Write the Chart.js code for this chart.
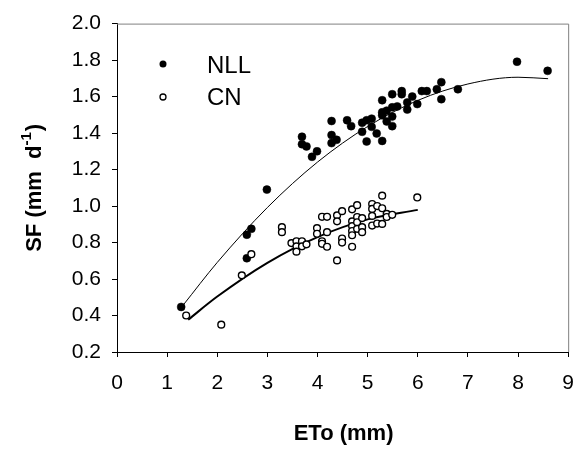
<!DOCTYPE html>
<html>
<head>
<meta charset="utf-8">
<script src="https://cdn.jsdelivr.net/npm/chart.js@4/dist/chart.umd.min.js"></script>
<style>
html,body{margin:0;padding:0;background:#fff;}
#wrap{width:588px;height:450px;position:relative;}
</style>
</head>
<body>
<div id="wrap"><canvas id="c" width="588" height="450"></canvas></div>
<script>
// ---- data ----
const seriesNames = ["NLL", "CN"];
const nllX = [1.28,2.59,2.59,2.68,2.99,3.69,3.69,3.78,3.89,3.99,4.28,4.28,4.28,4.38,4.59,4.67,4.89,4.89,4.98,5.08,4.98,5.08,5.18,5.29,5.29,5.29,5.29,5.38,5.38,5.49,5.49,5.49,5.49,5.59,5.68,5.68,5.79,5.79,5.89,5.99,6.08,6.18,6.38,6.47,6.47,6.80,7.98,8.59];
const nllY = [0.447,0.714,0.843,0.875,1.09,1.38,1.339,1.327,1.27,1.30,1.466,1.389,1.345,1.363,1.47,1.438,1.457,1.407,1.47,1.479,1.354,1.434,1.398,1.357,1.58,1.514,1.497,1.523,1.464,1.613,1.541,1.491,1.438,1.546,1.63,1.613,1.568,1.529,1.60,1.559,1.63,1.63,1.64,1.586,1.679,1.64,1.791,1.741];
const cnX = [1.38,2.08,2.49,2.68,3.29,3.29,3.48,3.58,3.69,3.58,3.69,3.78,3.58,3.99,3.99,4.09,4.09,4.19,4.19,4.09,4.19,4.39,4.39,4.49,4.49,4.49,4.39,4.69,4.79,4.69,4.69,4.69,4.69,4.79,4.79,4.79,4.89,4.89,4.89,4.69,5.09,5.09,5.09,5.19,5.29,5.09,5.19,5.29,5.29,5.38,5.38,5.49,5.99];
const cnY = [0.40,0.35,0.62,0.736,0.884,0.857,0.797,0.807,0.807,0.779,0.779,0.79,0.75,0.879,0.848,0.807,0.793,0.857,0.777,0.941,0.941,0.949,0.916,0.972,0.822,0.80,0.702,0.982,1.005,0.916,0.89,0.863,0.84,0.94,0.911,0.875,0.934,0.884,0.857,0.777,1.011,0.984,0.946,1.0,0.988,0.893,0.904,0.902,1.057,0.957,0.94,0.952,1.047];
// fitted curves
const nllFitX = [1.32,2,3,4,5,6,7,8,8.6];
const nllFitY = [0.457,0.691,0.992,1.241,1.436,1.579,1.669,1.706,1.698];
const cnFitX = [1.42,2,3,4,5,6];
const cnFitY = [0.377,0.504,0.689,0.830,0.927,0.979];
const xTicks = [0,1,2,3,4,5,6,7,8,9];
const yTicks = [0.2,0.4,0.6,0.8,1.0,1.2,1.4,1.6,1.8,2.0];
const xTitle = "ETo (mm)";
const yTitleMain = "SF (mm  d";
const yTitleSup = "-1";
const yTitleEnd = ")";

const zip = (xs, ys) => xs.map((x, i) => ({x: x, y: ys[i]}));
const FONT = "'Liberation Sans', Arial, sans-serif";

const overlay = {
  id: 'overlay',
  afterDraw(chart) {
    const ctx = chart.ctx;
    const a = chart.chartArea;
    ctx.save();
    // top/right frame
    ctx.strokeStyle = '#808080';
    ctx.lineWidth = 1;
    ctx.beginPath();
    ctx.moveTo(a.left, a.top + 0.5);
    ctx.lineTo(a.right + 0.5, a.top + 0.5);
    ctx.lineTo(a.right + 0.5, a.bottom);
    ctx.stroke();
    // legend
    const lx = 163;
    ctx.fillStyle = '#000';
    ctx.beginPath(); ctx.arc(lx, 64, 3.5, 0, Math.PI * 2); ctx.fill();
    ctx.strokeStyle = '#000'; ctx.lineWidth = 1.3;
    ctx.beginPath(); ctx.arc(lx, 97, 3, 0, Math.PI * 2); ctx.fillStyle = '#fff'; ctx.fill(); ctx.stroke();
    ctx.fillStyle = '#000';
    ctx.font = '24px ' + FONT;
    ctx.textAlign = 'left'; ctx.textBaseline = 'middle';
    ctx.fillText(seriesNames[0], 207, 66);
    ctx.fillText(seriesNames[1], 207, 98);
    // x title
    ctx.font = 'bold 22px ' + FONT;
    ctx.textAlign = 'center'; ctx.textBaseline = 'middle';
    ctx.fillText(xTitle, (a.left + a.right) / 2 + 1, 434);
    // y title (rotated, with superscript)
    ctx.translate(33, (a.top + a.bottom) / 2);
    ctx.rotate(-Math.PI / 2);
    ctx.textBaseline = 'alphabetic';
    ctx.textAlign = 'left';
    ctx.font = 'bold 22px ' + FONT;
    const w1 = ctx.measureText(yTitleMain).width;
    ctx.font = 'bold 15px ' + FONT;
    const w2 = ctx.measureText(yTitleSup).width;
    ctx.font = 'bold 22px ' + FONT;
    const w3 = ctx.measureText(yTitleEnd).width;
    const total = w1 + w2 + w3 + 1;
    let sx = -total / 2;
    ctx.fillText(yTitleMain, sx, 8);
    sx += w1;
    ctx.font = 'bold 15px ' + FONT;
    ctx.fillText(yTitleSup, sx, -2);
    sx += w2 + 1;
    ctx.font = 'bold 22px ' + FONT;
    ctx.fillText(yTitleEnd, sx, 8);
    ctx.restore();
  }
};

new Chart(document.getElementById('c'), {
  type: 'scatter',
  data: {
    datasets: [
      { label: seriesNames[0], data: zip(nllX, nllY), pointRadius: 4, pointBackgroundColor: '#000', pointBorderColor: '#000', pointBorderWidth: 0.5, showLine: false, order: 2 },
      { label: seriesNames[1], data: zip(cnX, cnY), pointRadius: 3.4, pointBackgroundColor: '#fff', pointBorderColor: '#000', pointBorderWidth: 1.4, showLine: false, order: 1 },
      { label: 'NLL fit', data: zip(nllFitX, nllFitY), showLine: true, pointRadius: 0, borderColor: '#000', borderWidth: 1, cubicInterpolationMode: 'monotone', fill: false, order: 3 },
      { label: 'CN fit', data: zip(cnFitX, cnFitY), showLine: true, pointRadius: 0, borderColor: '#000', borderWidth: 2, cubicInterpolationMode: 'monotone', fill: false, order: 3 }
    ]
  },
  options: {
    responsive: false,
    animation: false,
    events: [],
    layout: { padding: { left: 0, right: 7, top: 16, bottom: 0 } },
    plugins: { legend: { display: false }, tooltip: { enabled: false } },
    scales: {
      x: {
        type: 'linear', min: 0, max: 9,
        afterBuildTicks: s => { s.ticks = xTicks.map(v => ({value: v})); },
        afterFit: s => { s.height = 98; },
        ticks: { color: '#000', font: { family: FONT, size: 21 }, padding: 14, maxRotation: 0, callback: v => String(v) },
        grid: { drawOnChartArea: false, drawTicks: true, tickLength: 5, color: '#000' },
        border: { color: '#000', width: 1 }
      },
      y: {
        type: 'linear', min: 0.2, max: 2.0,
        afterBuildTicks: s => { s.ticks = yTicks.map(v => ({value: v})); },
        afterFit: s => { s.width = 117; },
        ticks: { color: '#000', font: { family: FONT, size: 21 }, padding: 11, callback: v => Number(v).toFixed(1) },
        grid: { drawOnChartArea: false, drawTicks: true, tickLength: 5, color: '#000' },
        border: { color: '#000', width: 1 }
      }
    }
  },
  plugins: [overlay]
});
</script>
</body>
</html>
